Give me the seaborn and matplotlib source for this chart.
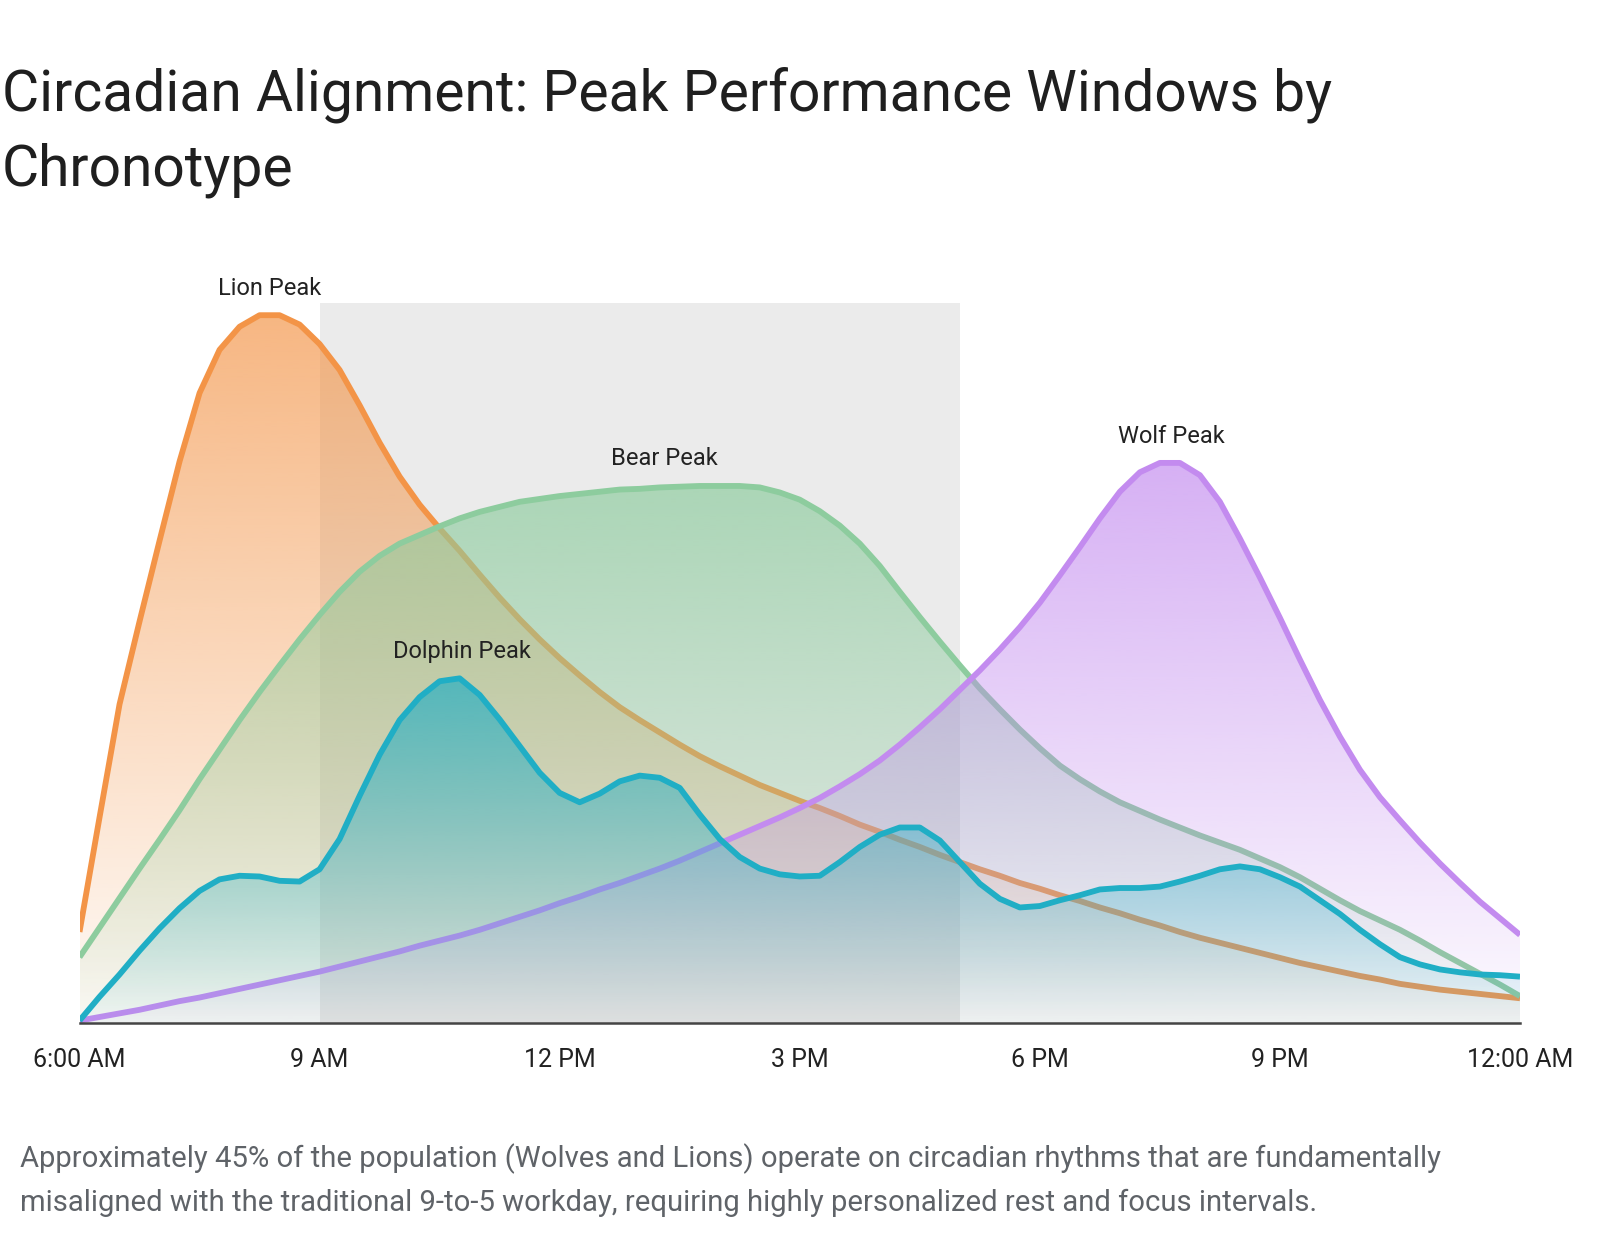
import numpy as np
import pandas as pd
import matplotlib
matplotlib.use("Agg")
import matplotlib.pyplot as plt
import matplotlib.colors as mcolors
import seaborn as sns

# hours from 6 AM to midnight, every quarter hour
hours = [6 + 0.25 * i for i in range(73)]

lion = [12.7, 28.6, 44.3, 55.8, 67.0, 78.0, 87.5, 93.5, 96.7, 98.3, 98.3, 97.0, 94.3,
        90.7, 85.8, 80.6, 75.9, 72.0, 68.7, 65.6, 62.3, 59.1, 56.1, 53.3, 50.7, 48.3,
        46.0, 43.9, 42.1, 40.4, 38.7, 37.1, 35.7, 34.4, 33.1, 32.0, 30.9, 29.9, 28.8,
        27.6, 26.6, 25.5, 24.5, 23.4, 22.4, 21.4, 20.5, 19.5, 18.7, 17.8, 17.0, 16.1,
        15.3, 14.4, 13.6, 12.7, 11.9, 11.2, 10.5, 9.8, 9.1, 8.4, 7.8, 7.2, 6.6, 6.1,
        5.5, 5.1, 4.7, 4.4, 4.1, 3.8, 3.5]
bear = [9.2, 13.3, 17.4, 21.5, 25.5, 29.6, 33.9, 38.0, 42.1, 46.0, 49.7, 53.3, 56.7,
        59.9, 62.7, 64.9, 66.6, 67.8, 69.0, 70.1, 71.0, 71.7, 72.4, 72.8, 73.2, 73.5,
        73.8, 74.1, 74.2, 74.4, 74.5, 74.6, 74.6, 74.6, 74.4, 73.7, 72.7, 71.1, 69.1,
        66.6, 63.5, 59.9, 56.4, 53.0, 49.7, 46.5, 43.6, 40.8, 38.2, 35.8, 33.9, 32.2,
        30.7, 29.5, 28.3, 27.2, 26.1, 25.1, 24.1, 22.9, 21.7, 20.3, 18.7, 17.1, 15.6,
        14.3, 13.0, 11.5, 9.9, 8.4, 6.9, 5.4, 3.8]
dolphin = [0.4, 3.7, 6.8, 10.1, 13.2, 16.0, 18.4, 20.0, 20.5, 20.4, 19.8, 19.7, 21.4,
           25.6, 31.6, 37.3, 42.1, 45.3, 47.5, 47.9, 45.6, 42.2, 38.5, 34.8, 32.0, 30.7,
           31.9, 33.6, 34.4, 34.1, 32.7, 29.0, 25.6, 23.1, 21.5, 20.7, 20.4, 20.5, 22.4,
           24.5, 26.2, 27.2, 27.2, 25.4, 22.4, 19.4, 17.3, 16.1, 16.3, 17.1, 17.8, 18.6,
           18.8, 18.8, 19.0, 19.7, 20.5, 21.4, 21.8, 21.4, 20.3, 19.0, 17.1, 15.2, 13.0,
           11.0, 9.2, 8.2, 7.5, 7.1, 6.8, 6.7, 6.5]
wolf = [0.4, 0.9, 1.4, 1.9, 2.5, 3.1, 3.6, 4.2, 4.8, 5.4, 6.0, 6.6, 7.2, 7.9, 8.6,
        9.3, 10.0, 10.8, 11.5, 12.2, 13.0, 13.9, 14.8, 15.7, 16.7, 17.6, 18.6, 19.5,
        20.5, 21.5, 22.6, 23.8, 25.0, 26.2, 27.4, 28.6, 29.9, 31.3, 32.9, 34.6, 36.5,
        38.7, 41.1, 43.6, 46.3, 49.0, 51.9, 55.0, 58.4, 62.2, 66.1, 70.1, 73.8, 76.5,
        77.8, 77.8, 76.1, 72.4, 67.3, 61.9, 56.3, 50.5, 44.9, 39.8, 35.2, 31.4, 28.2,
        25.1, 22.2, 19.5, 16.9, 14.6, 12.3]

for s in (lion, bear, dolphin, wolf):
    assert len(s) == len(hours)

tick_hours = [6, 9, 12, 15, 18, 21, 24]
tick_labels = ["6:00 AM", "9 AM", "12 PM", "3 PM", "6 PM", "9 PM", "12:00 AM"]
workday = (9, 17)

# name, values, colour, label offset from the peak in pixels (dx, dy)
series = [
    ("Lion Peak", lion, "#f39447", (10, 27)),
    ("Bear Peak", bear, "#8dcc9e", (-35, 27)),
    ("Wolf Peak", wolf, "#c38bef", (11, 26)),
    ("Dolphin Peak", dolphin, "#20aec5", (2, 27)),
]

sns.set_theme(style="white")
plt.rcParams["font.family"] = ["Roboto", "DejaVu Sans"]

fig = plt.figure(figsize=(16, 12.34), dpi=100)
ax = fig.add_axes([0.0497, 0.1706, 0.9003, 0.5839])

ax.axvspan(*workday, color="#ebebeb", zorder=0, lw=0)

x = np.array(hours)
for i, (name, vals, col, off) in enumerate(series):
    y = np.array(vals)
    z = 2 + i * 3
    # gradient fill: colour at the top of the curve fading out at the baseline
    poly = ax.fill_between(x, y, 0, color="none", lw=0, zorder=z)
    img = np.zeros((256, 1, 4))
    img[:, :, :3] = mcolors.to_rgb(col)
    img[:, 0, 3] = np.linspace(0.68, 0.04, 256)
    im = ax.imshow(img, aspect="auto", origin="upper", zorder=z,
                   extent=[x.min(), x.max(), 0, y.max()], interpolation="bilinear")
    im.set_clip_path(poly.get_paths()[0], transform=ax.transData)
    sns.lineplot(x=x, y=y, color=col, lw=4.2, ax=ax, zorder=z + 1,
                 solid_joinstyle="round", solid_capstyle="butt")
    k = int(np.argmax(y))
    ax.annotate(name, (x[k], y[k]), xytext=off, textcoords="offset pixels",
                ha="center", va="center", fontsize=17, color="#222222",
                annotation_clip=False, zorder=20)

ax.set_xlim(6, 24)
ax.set_ylim(0, 100)
ax.set_xticks(tick_hours)
ax.set_xticklabels(tick_labels, fontsize=18, color="#222222")
ax.set_yticks([])
ax.tick_params(axis="x", length=0, pad=17.5)
for s in ["left", "right", "top"]:
    ax.spines[s].set_visible(False)
ax.spines["bottom"].set_color("#444444")
ax.spines["bottom"].set_linewidth(1.8)
ax.spines["bottom"].set_zorder(30)
ax.set_xlabel("")
ax.set_ylabel("")

fig.text(0.001, 0.893, "Circadian Alignment: Peak Performance Windows by\nChronotype",
         ha="left", va="center", fontsize=41, color="#1f1f1f", linespacing=1.45)
fig.text(0.0128, 0.0437,
         "Approximately 45% of the population (Wolves and Lions) operate on circadian rhythms that are fundamentally\n"
         "misaligned with the traditional 9-to-5 workday, requiring highly personalized rest and focus intervals.",
         ha="left", va="center", fontsize=21.1, color="#5f6368", linespacing=1.66)

fig.savefig("out.png", dpi=100, facecolor="white")
